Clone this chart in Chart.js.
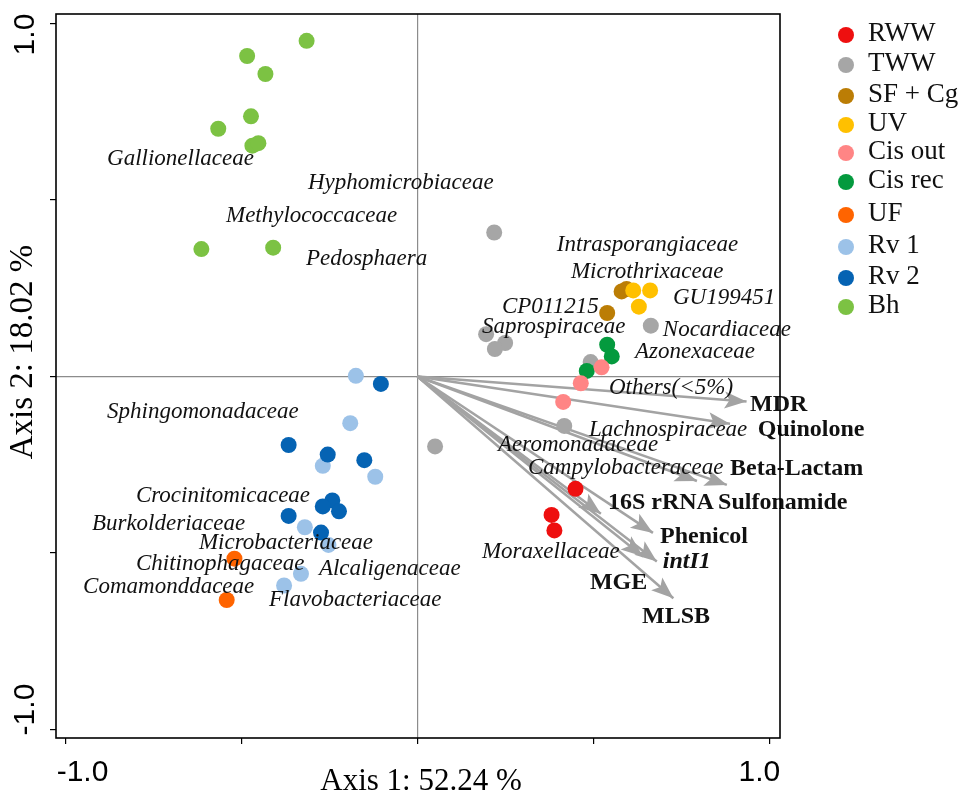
<!DOCTYPE html>
<html>
<head>
<meta charset="utf-8">
<script src="https://cdn.jsdelivr.net/npm/chart.js@4/dist/chart.umd.min.js"></script>
<style>
  html, body { margin: 0; padding: 0; background: #fff; }
  #wrap { width: 969px; height: 797px; position: relative; }
</style>
</head>
<body>
<div id="wrap"><canvas id="chart"></canvas></div>
<script>
// sample groups (legend order)
var groups = ['RWW', 'TWW', 'SF + Cg', 'UV', 'Cis out', 'Cis rec', 'UF', 'Rv 1', 'Rv 2', 'Bh'];
var groupColors = ['#ee0f0f', '#a6a6a6', '#bb7d05', '#ffc000', '#ff8585', '#049a3e', '#ff6400', '#9cc2e8', '#0563b3', '#7cc243'];

// sample scores [axis1, axis2]
var RWW = [[0.449, -0.318], [0.381, -0.392], [0.389, -0.436]];
var TWW = [[0.218, 0.408], [0.663, 0.144], [0.195, 0.120], [0.249, 0.095], [0.220, 0.078], [0.492, 0.041], [0.417, -0.140], [0.050, -0.198]];
var SFCg = [[0.580, 0.241], [0.594, 0.248], [0.539, 0.180]];
var UV = [[0.613, 0.244], [0.661, 0.244], [0.629, 0.198]];
var CisOut = [[0.523, 0.026], [0.464, -0.019], [0.414, -0.072]];
var CisRec = [[0.539, 0.090], [0.552, 0.057], [0.481, 0.016]];
var UF = [[-0.520, -0.516], [-0.542, -0.633]];
var Rv1 = [[-0.175, 0.002], [-0.191, -0.132], [-0.269, -0.253], [-0.120, -0.284], [-0.320, -0.427], [-0.253, -0.477], [-0.331, -0.559], [-0.379, -0.592]];
var Rv2 = [[-0.104, -0.021], [-0.366, -0.194], [-0.255, -0.221], [-0.151, -0.237], [-0.242, -0.351], [-0.269, -0.368], [-0.223, -0.382], [-0.366, -0.395], [-0.274, -0.442]];
var Bh = [[-0.315, 0.951], [-0.484, 0.908], [-0.432, 0.857], [-0.473, 0.737], [-0.566, 0.702], [-0.469, 0.654], [-0.452, 0.661], [-0.614, 0.361], [-0.410, 0.365]];
var groupScores = [RWW, TWW, SFCg, UV, CisOut, CisRec, UF, Rv1, Rv2, Bh];
var drawOrder = [5, 9, 3, 1, 0, 0, 4, 7, 6, 8]; // lower = on top

// gene vectors
var vectorNames = ['MDR', 'Quinolone', 'Beta-Lactam', 'Sulfonamide', '16S rRNA', 'Phenicol', 'intI1', 'MGE', 'MLSB'];
var vectorX = [0.935, 0.888, 0.879, 0.794, 0.521, 0.669, 0.680, 0.641, 0.727];
var vectorY = [-0.071, -0.134, -0.307, -0.296, -0.389, -0.443, -0.524, -0.510, -0.628];
var vectorLabelX = [0.945, 0.967, 0.888, 0.854, 0.541, 0.689, 0.697, 0.490, 0.638];
var vectorLabelY = [-0.080, -0.151, -0.261, -0.358, -0.358, -0.454, -0.525, -0.585, -0.681];

// taxa labels (left end of text)
var taxaNames = ['Gallionellaceae', 'Hyphomicrobiaceae', 'Methylococcaceae', 'Pedosphaera', 'Intrasporangiaceae',
  'Microthrixaceae', 'GU199451', 'CP011215', 'Saprospiraceae', 'Nocardiaceae', 'Azonexaceae', 'Others(<5%)',
  'Lachnospiraceae', 'Aeromonadaceae', 'Campylobacteraceae', 'Moraxellaceae', 'Sphingomonadaceae',
  'Crocinitomicaceae', 'Burkolderiaceae', 'Microbacteriaceae', 'Chitinophagaceae', 'Alcaligenaceae',
  'Comamonddaceae', 'Flavobacteriaceae'];
var taxaX = [-0.882, -0.311, -0.544, -0.317, 0.396, 0.436, 0.726, 0.240, 0.183, 0.697, 0.618, 0.544,
  0.487, 0.229, 0.314, 0.183, -0.882, -0.800, -0.925, -0.621, -0.800, -0.280, -0.950, -0.422];
var taxaY = [0.617, 0.549, 0.455, 0.333, 0.373, 0.297, 0.223, 0.197, 0.141, 0.132, 0.070, -0.032,
  -0.151, -0.193, -0.258, -0.496, -0.100, -0.338, -0.417, -0.471, -0.531, -0.545, -0.596, -0.633];

var xTickLabels = ['-1.0', '1.0'];
var yTickLabels = ['-1.0', '1.0'];
var xTitle = 'Axis 1: 52.24 %';
var yTitle = 'Axis 2: 18.02 %';

var arrowColor = '#a3a3a3';
var serif = '"Liberation Serif", "Times New Roman", serif';
var sans = '"Liberation Sans", Arial, sans-serif';

var datasets = [];
for (var g = 0; g < groups.length; g++) {
  datasets.push({
    label: groups[g],
    data: groupScores[g].map(function (p) { return { x: p[0], y: p[1] }; }),
    backgroundColor: groupColors[g],
    borderWidth: 0,
    pointRadius: 8,
    pointHoverRadius: 8,
    order: drawOrder[g]
  });
}
for (var v = 0; v < vectorNames.length; v++) {
  datasets.push({
    label: vectorNames[v],
    data: [{ x: 0, y: 0 }, { x: vectorX[v], y: vectorY[v] }],
    showLine: true,
    borderColor: arrowColor,
    borderWidth: 2.5,
    pointRadius: 0,
    order: 20
  });
}

var decor = {
  id: 'decor',
  afterDatasetsDraw: function (chart) {
    var ctx = chart.ctx;
    var xs = chart.scales.x, ys = chart.scales.y;
    var area = chart.chartArea;
    ctx.save();

    // arrow heads
    ctx.fillStyle = arrowColor;
    for (var i = 0; i < vectorNames.length; i++) {
      var x0 = xs.getPixelForValue(0), y0 = ys.getPixelForValue(0);
      var x1 = xs.getPixelForValue(vectorX[i]), y1 = ys.getPixelForValue(vectorY[i]);
      var a = Math.atan2(y1 - y0, x1 - x0);
      var len = 22, half = 8.5;
      ctx.beginPath();
      ctx.moveTo(x1, y1);
      ctx.lineTo(x1 - len * Math.cos(a) + half * Math.sin(a), y1 - len * Math.sin(a) - half * Math.cos(a));
      ctx.lineTo(x1 - 0.78 * len * Math.cos(a), y1 - 0.78 * len * Math.sin(a));
      ctx.lineTo(x1 - len * Math.cos(a) - half * Math.sin(a), y1 - len * Math.sin(a) + half * Math.cos(a));
      ctx.closePath();
      ctx.fill();
    }

    // taxa labels
    ctx.fillStyle = '#111';
    ctx.textBaseline = 'middle';
    ctx.textAlign = 'left';
    ctx.font = 'italic 23px ' + serif;
    for (var t = 0; t < taxaNames.length; t++) {
      ctx.fillText(taxaNames[t], xs.getPixelForValue(taxaX[t]), ys.getPixelForValue(taxaY[t]));
    }

    // gene labels
    for (var k = 0; k < vectorNames.length; k++) {
      ctx.font = (vectorNames[k] === 'intI1' ? 'italic bold 24px ' : 'bold 24px ') + serif;
      ctx.fillText(vectorNames[k], xs.getPixelForValue(vectorLabelX[k]), ys.getPixelForValue(vectorLabelY[k]));
    }

    // plot frame
    ctx.strokeStyle = '#000';
    ctx.lineWidth = 1.6;
    ctx.strokeRect(area.left, area.top, area.right - area.left, area.bottom - area.top);

    // tick labels
    ctx.fillStyle = '#000';
    ctx.font = '30px ' + sans;
    ctx.textAlign = 'center';
    ctx.fillText(xTickLabels[0], xs.getPixelForValue(-1) + 17, 773);
    ctx.fillText(xTickLabels[1], xs.getPixelForValue(1) - 10, 773);
    ctx.save();
    ctx.translate(26, ys.getPixelForValue(1) + 11);
    ctx.rotate(-Math.PI / 2);
    ctx.fillText(yTickLabels[1], 0, 0);
    ctx.restore();
    ctx.save();
    ctx.translate(26, ys.getPixelForValue(-1) - 20);
    ctx.rotate(-Math.PI / 2);
    ctx.fillText(yTickLabels[0], 0, 0);
    ctx.restore();

    // axis titles
    ctx.font = '31px ' + serif;
    ctx.fillText(xTitle, 421, 782);
    ctx.save();
    ctx.translate(23, 352);
    ctx.rotate(-Math.PI / 2);
    ctx.font = '33px ' + serif;
    ctx.fillText(yTitle, 0, 0);
    ctx.restore();

    // legend
    var legendY = [35, 65, 96, 125, 153, 182, 215, 247, 278, 307];
    ctx.textAlign = 'left';
    ctx.font = '27px ' + serif;
    for (var gi = 0; gi < groups.length; gi++) {
      ctx.fillStyle = groupColors[gi];
      ctx.beginPath();
      ctx.arc(846, legendY[gi], 8, 0, Math.PI * 2);
      ctx.fill();
      ctx.fillStyle = '#111';
      ctx.fillText(groups[gi], 868, legendY[gi] - 1);
    }
    ctx.restore();
  }
};

var chart = new Chart(document.getElementById('chart'), {
  type: 'scatter',
  data: { datasets: datasets },
  options: {
    responsive: true,
    maintainAspectRatio: false,
    animation: false,
    layout: { padding: { left: 50, top: 14, right: 189, bottom: 53 } },
    plugins: { legend: { display: false }, tooltip: { enabled: false } },
    scales: {
      x: {
        type: 'linear',
        min: -1.027,
        max: 1.030,
        afterFit: function (s) { s.height = 6; },
        ticks: { display: false, stepSize: 0.5, includeBounds: false },
        border: { display: false },
        grid: {
          color: function (c) { return c.tick && c.tick.value === 0 ? '#8c8c8c' : 'rgba(0,0,0,0)'; },
          tickColor: '#000',
          tickLength: 6,
          lineWidth: 1.2
        }
      },
      y: {
        type: 'linear',
        min: -1.024,
        max: 1.027,
        afterFit: function (s) { s.width = 6; },
        ticks: { display: false, stepSize: 0.5, includeBounds: false },
        border: { display: false },
        grid: {
          color: function (c) { return c.tick && c.tick.value === 0 ? '#8c8c8c' : 'rgba(0,0,0,0)'; },
          tickColor: '#000',
          tickLength: 6,
          lineWidth: 1.2
        }
      }
    }
  },
  plugins: [decor]
});
</script>
</body>
</html>
